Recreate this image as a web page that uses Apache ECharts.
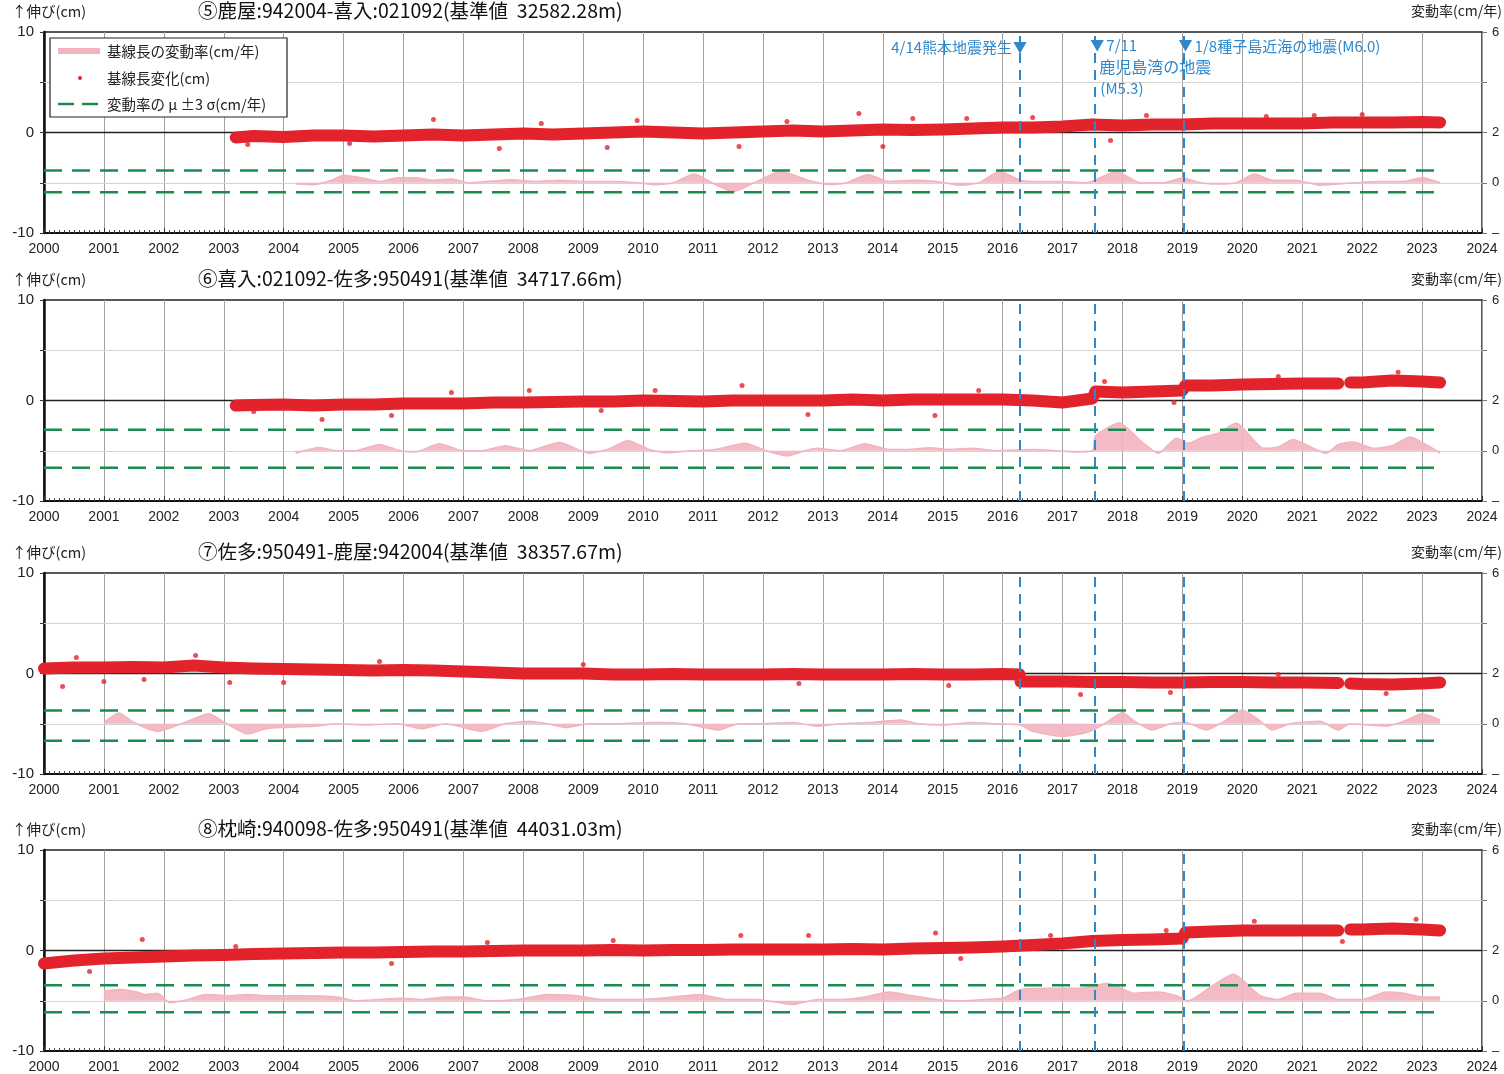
<!DOCTYPE html>
<html>
<head>
<meta charset="utf-8">
<script src="https://cdn.jsdelivr.net/npm/echarts@6/dist/echarts.min.js"></script>
<style>
  html, body { margin: 0; padding: 0; background: #fff; }
  #main { width: 1504px; height: 1074px; }
</style>
</head>
<body>
<div id="main"></div>
<script>
// 基線長変化 (cm) の帯、外れ点、変動率 (cm/年)、μ±3σ
const quakeYears = [2016.29, 2017.53, 2019.02];

const titles = [
  '⑤鹿屋:942004-喜入:021092(基準値  32582.28m)',
  '⑥喜入:021092-佐多:950491(基準値  34717.66m)',
  '⑦佐多:950491-鹿屋:942004(基準値  38357.67m)',
  '⑧枕崎:940098-佐多:950491(基準値  44031.03m)'
];

const band5 = [[2003.2,-0.5],[2003.5,-0.35],[2004.0,-0.45],[2004.5,-0.3],[2005.0,-0.3],[2005.5,-0.4],[2006.0,-0.3],[2006.5,-0.2],[2007.0,-0.3],[2007.5,-0.2],[2008.0,-0.1],[2008.5,-0.2],[2009.0,-0.1],[2009.5,0.0],[2010.0,0.1],[2010.5,0.0],[2011.0,-0.1],[2011.5,0.0],[2012.0,0.1],[2012.5,0.2],[2013.0,0.1],[2013.5,0.2],[2014.0,0.3],[2014.5,0.25],[2015.0,0.3],[2015.5,0.4],[2016.0,0.5],[2016.5,0.5],[2017.0,0.6],[2017.5,0.8],[2018.0,0.7],[2018.5,0.8],[2019.0,0.8],[2019.5,0.9],[2020.0,0.9],[2020.5,0.9],[2021.0,0.9],[2021.5,1.0],[2022.0,1.0],[2022.5,1.0],[2023.0,1.05],[2023.3,1.0]];
const dots5 = [[2006.5,1.3],[2009.9,1.2],[2013.6,1.9],[2014.5,1.4],[2015.4,1.4],[2016.5,1.5],[2009.4,-1.5],[2007.6,-1.6],[2014.0,-1.4],[2011.6,-1.4],[2017.8,-0.8],[2020.4,1.6],[2022.0,1.8],[2003.4,-1.2],[2005.1,-1.1],[2008.3,0.9],[2012.4,1.1],[2018.4,1.7],[2021.2,1.7]];
const rate5 = [[2004.2,-0.05],[2004.5,-0.08],[2004.8,0.1],[2005.0,0.3],[2005.3,0.2],[2005.6,0.05],[2005.9,0.2],[2006.2,0.2],[2006.5,0.1],[2006.8,0.15],[2007.1,0.0],[2007.4,0.05],[2007.8,0.12],[2008.2,0.05],[2008.6,0.1],[2009.0,0.05],[2009.5,0.05],[2009.9,0.0],[2010.2,-0.08],[2010.5,0.0],[2010.85,0.35],[2011.15,0.0],[2011.5,-0.35],[2011.85,0.0],[2012.3,0.45],[2012.75,0.1],[2013.1,-0.07],[2013.4,0.0],[2013.75,0.33],[2014.1,0.05],[2014.5,0.1],[2014.9,0.05],[2015.3,-0.1],[2015.6,0.0],[2015.95,0.45],[2016.3,0.1],[2016.6,0.05],[2017.0,0.05],[2017.4,0.0],[2017.9,0.45],[2018.3,0.0],[2018.7,0.0],[2019.0,0.2],[2019.3,0.0],[2019.6,-0.05],[2019.9,0.0],[2020.2,0.35],[2020.5,0.1],[2020.9,0.1],[2021.3,-0.1],[2021.6,-0.05],[2021.9,0.0],[2022.3,0.05],[2022.7,0.05],[2023.0,0.2],[2023.3,0.0]];
const sigma5 = [0.49, -0.38];

const band6 = [[2003.2,-0.5],[2003.5,-0.45],[2004.0,-0.4],[2004.5,-0.5],[2005.0,-0.4],[2005.5,-0.4],[2006.0,-0.3],[2006.5,-0.3],[2007.0,-0.3],[2007.5,-0.2],[2008.0,-0.2],[2008.5,-0.15],[2009.0,-0.1],[2009.5,-0.1],[2010.0,0.0],[2010.5,-0.05],[2011.0,-0.1],[2011.5,0.0],[2012.0,0.0],[2012.5,0.0],[2013.0,0.0],[2013.5,0.1],[2014.0,0.0],[2014.5,0.1],[2015.0,0.1],[2015.5,0.1],[2016.0,0.1],[2016.5,0.0],[2017.0,-0.2],[2017.5,0.2],[2017.55,0.9],[2018.0,0.8],[2018.5,0.9],[2019.0,1.0],[2019.05,1.5],[2019.5,1.5],[2020.0,1.6],[2020.5,1.65],[2021.0,1.7],[2021.6,1.7],[2021.7,null],[2021.8,1.8],[2022.0,1.8],[2022.5,2.0],[2023.0,1.9],[2023.3,1.8]];
const dots6 = [[2004.64,-1.9],[2005.8,-1.5],[2011.65,1.5],[2012.75,-1.4],[2014.87,-1.5],[2018.86,-0.2],[2009.3,-1.0],[2008.1,1.0],[2017.7,1.9],[2022.6,2.8],[2003.5,-1.1],[2006.8,0.8],[2010.2,1.0],[2015.6,1.0],[2020.6,2.4]];
const rate6 = [[2004.2,-0.1],[2004.6,0.13],[2004.9,0.0],[2005.2,0.0],[2005.6,0.25],[2005.95,0.0],[2006.2,-0.05],[2006.6,0.28],[2007.0,0.0],[2007.3,0.0],[2007.7,0.2],[2008.1,0.0],[2008.6,0.33],[2009.1,-0.1],[2009.4,0.05],[2009.75,0.4],[2010.1,0.05],[2010.4,-0.08],[2010.8,0.0],[2011.2,0.05],[2011.7,0.3],[2012.05,0.0],[2012.4,-0.2],[2012.7,0.0],[2012.9,0.1],[2013.3,0.0],[2013.7,0.28],[2014.1,0.05],[2014.4,0.05],[2014.8,0.12],[2015.1,0.05],[2015.5,0.1],[2015.9,0.0],[2016.5,0.05],[2016.9,0.0],[2017.2,-0.05],[2017.5,0.0],[2017.55,0.6],[2017.95,1.1],[2018.3,0.4],[2018.6,-0.1],[2018.9,0.5],[2019.1,0.3],[2019.35,0.55],[2019.6,0.7],[2019.9,1.1],[2020.35,0.1],[2020.6,0.15],[2020.85,0.45],[2021.1,0.2],[2021.4,-0.1],[2021.6,0.25],[2021.85,0.35],[2022.2,0.1],[2022.5,0.2],[2022.8,0.55],[2023.1,0.2],[2023.3,-0.1]];
const sigma6 = [0.84, -0.68];

const band7 = [[2000.0,0.5],[2000.5,0.6],[2001.0,0.6],[2001.5,0.65],[2002.0,0.6],[2002.5,0.8],[2003.0,0.6],[2003.5,0.5],[2004.0,0.45],[2004.5,0.4],[2005.0,0.35],[2005.5,0.3],[2006.0,0.35],[2006.5,0.3],[2007.0,0.2],[2007.5,0.1],[2008.0,0.0],[2008.5,0.0],[2009.0,0.0],[2009.5,-0.1],[2010.0,-0.1],[2010.5,-0.05],[2011.0,-0.1],[2011.5,-0.1],[2012.0,-0.1],[2012.5,-0.05],[2013.0,-0.1],[2013.5,-0.1],[2014.0,-0.1],[2014.5,-0.05],[2015.0,-0.1],[2015.5,-0.1],[2016.0,-0.05],[2016.28,-0.1],[2016.3,-0.8],[2016.5,-0.8],[2017.0,-0.8],[2017.5,-0.85],[2018.0,-0.85],[2018.5,-0.9],[2019.0,-0.9],[2019.5,-0.85],[2020.0,-0.85],[2020.5,-0.9],[2021.0,-0.9],[2021.6,-0.95],[2021.7,null],[2021.8,-1.0],[2022.0,-1.05],[2022.5,-1.1],[2023.0,-1.0],[2023.3,-0.9]];
const dots7 = [[2000.31,-1.3],[2000.54,1.6],[2002.53,1.8],[2001.67,-0.6],[2005.6,1.2],[2003.1,-0.9],[2017.3,-2.1],[2020.6,-0.1],[2001.0,-0.8],[2004.0,-0.9],[2009.0,0.9],[2012.6,-1.0],[2015.1,-1.2],[2018.8,-1.9],[2022.4,-2.0]];
const rate7 = [[2001.0,0.05],[2001.25,0.43],[2001.5,0.05],[2001.9,-0.3],[2002.3,0.0],[2002.75,0.4],[2003.05,0.0],[2003.4,-0.4],[2003.7,-0.2],[2004.0,-0.15],[2004.5,-0.1],[2004.9,0.0],[2005.4,-0.05],[2005.9,0.0],[2006.3,-0.2],[2006.7,0.0],[2007.3,-0.3],[2007.7,0.0],[2008.1,0.1],[2008.4,0.0],[2008.7,-0.15],[2009.1,0.0],[2009.6,0.0],[2010.2,0.05],[2010.7,0.0],[2011.25,-0.25],[2011.6,0.0],[2012.0,0.0],[2012.5,0.05],[2012.9,-0.1],[2013.3,0.0],[2013.8,0.05],[2014.3,0.15],[2014.6,0.0],[2015.0,-0.05],[2015.5,0.05],[2015.9,0.0],[2016.3,-0.05],[2016.5,-0.3],[2017.0,-0.5],[2017.4,-0.35],[2017.7,0.0],[2018.0,0.45],[2018.2,0.1],[2018.5,-0.25],[2018.8,0.0],[2019.05,0.05],[2019.4,-0.25],[2019.7,0.1],[2020.0,0.55],[2020.25,0.2],[2020.5,-0.25],[2020.8,0.0],[2021.3,0.1],[2021.6,-0.25],[2021.8,0.0],[2022.1,-0.05],[2022.4,-0.1],[2022.7,0.1],[2023.0,0.4],[2023.3,0.15]];
const sigma7 = [0.53, -0.68];

const band8 = [[2000.0,-1.3],[2000.5,-1.0],[2001.0,-0.8],[2001.5,-0.7],[2002.0,-0.6],[2002.5,-0.5],[2003.0,-0.45],[2003.5,-0.35],[2004.0,-0.3],[2004.5,-0.25],[2005.0,-0.2],[2005.5,-0.2],[2006.0,-0.15],[2006.5,-0.1],[2007.0,-0.1],[2007.5,-0.05],[2008.0,0.0],[2008.5,0.0],[2009.0,0.0],[2009.5,0.05],[2010.0,0.0],[2010.5,0.05],[2011.0,0.05],[2011.5,0.1],[2012.0,0.1],[2012.5,0.1],[2013.0,0.1],[2013.5,0.15],[2014.0,0.1],[2014.5,0.2],[2015.0,0.25],[2015.5,0.3],[2016.0,0.4],[2016.5,0.55],[2017.0,0.7],[2017.5,0.95],[2018.0,1.05],[2018.5,1.1],[2019.0,1.2],[2019.05,1.8],[2019.5,1.9],[2020.0,2.0],[2020.5,2.0],[2021.0,2.0],[2021.6,2.0],[2021.7,null],[2021.8,2.1],[2022.0,2.1],[2022.5,2.2],[2023.0,2.1],[2023.3,2.0]];
const dots8 = [[2001.64,1.1],[2000.76,-2.1],[2005.8,-1.3],[2011.63,1.5],[2014.88,1.75],[2018.73,2.0],[2012.76,1.5],[2021.67,0.9],[2009.5,1.0],[2015.3,-0.8],[2003.2,0.4],[2007.4,0.8],[2016.8,1.5],[2020.2,2.9],[2022.9,3.1]];
const rate8 = [[2001.0,0.4],[2001.3,0.45],[2001.55,0.35],[2001.7,0.25],[2001.9,0.3],[2002.1,-0.08],[2002.4,0.05],[2002.7,0.25],[2003.1,0.2],[2003.4,0.25],[2003.7,0.2],[2004.3,0.2],[2004.9,0.15],[2005.2,0.0],[2005.6,0.05],[2005.95,0.1],[2006.3,0.05],[2006.7,0.15],[2007.0,0.15],[2007.4,0.0],[2007.9,0.05],[2008.4,0.25],[2008.9,0.2],[2009.3,0.05],[2009.8,0.05],[2010.3,0.1],[2010.95,0.25],[2011.4,0.05],[2011.9,0.05],[2012.5,-0.15],[2012.9,0.05],[2013.3,0.05],[2013.7,0.15],[2014.1,0.35],[2014.5,0.2],[2014.9,0.05],[2015.3,0.0],[2015.7,0.05],[2016.0,0.1],[2016.3,0.45],[2016.8,0.5],[2017.3,0.5],[2017.75,0.7],[2018.2,0.3],[2018.6,0.35],[2018.9,0.2],[2019.1,0.0],[2019.5,0.6],[2019.85,1.05],[2020.3,0.2],[2020.6,0.05],[2020.9,0.3],[2021.3,0.3],[2021.6,0.05],[2022.0,0.05],[2022.4,0.35],[2022.7,0.3],[2023.0,0.15],[2023.3,0.15]];
const sigma8 = [0.62, -0.46];

const bands = [band5, band6, band7, band8];
const dots = [dots5, dots6, dots7, dots8];
const rates = [rate5, rate6, rate7, rate8];
const sigmas = [sigma5, sigma6, sigma7, sigma8];

const panelTops = [32, 300, 573, 850];
const panelH = 201;
const sigmaEnd = 2023.3;

const FONT = '"Liberation Sans", "Noto Sans CJK JP", sans-serif';
const JP = '"Noto Sans CJK JP", "Liberation Sans", sans-serif';
const RED = '#e3232b';
const PINK = '#f2b4bf';
const GREEN = '#1b8c4f';
const BLUE = '#2f88cc';

const chart = echarts.init(document.getElementById('main'));

const grids = [], xAxes = [], yAxes = [], series = [];

panelTops.forEach(function (top, i) {
  grids.push({
    left: 44, right: 22, top: top, height: panelH,
    show: true, borderColor: '#222', borderWidth: 1.5
  });
  xAxes.push({
    gridIndex: i, type: 'value', min: 2000, max: 2024, interval: 1,
    axisLine: { show: true, onZero: false, lineStyle: { color: '#111', width: 2 } },
    axisTick: { show: true, inside: true, length: 5, lineStyle: { color: '#333' } },
    minorTick: { show: true, splitNumber: 12, length: 3, lineStyle: { color: '#444' } },
    splitLine: { show: true, lineStyle: { color: '#a0a0a0', width: 1 } },
    axisLabel: { fontSize: 14, color: '#222', margin: 9, fontFamily: FONT,
      formatter: function (v) { return String(v); } }
  });
  yAxes.push({
    gridIndex: i, type: 'value', min: -10, max: 10, interval: 5, position: 'left',
    axisLine: { show: true, lineStyle: { color: '#111', width: 2.5 } },
    axisTick: { show: true, length: 4, lineStyle: { color: '#333' } },
    splitLine: { show: false },
    axisLabel: { fontSize: 15, color: '#222', margin: 10, fontFamily: FONT,
      formatter: function (v) { return v % 10 === 0 ? String(v) : ''; } }
  });
  yAxes.push({
    gridIndex: i, type: 'value', min: -2, max: 6, interval: 2, position: 'right',
    axisLine: { show: false },
    axisTick: { show: true, length: 5, lineStyle: { color: '#777' } },
    splitLine: { show: false },
    axisLabel: { fontSize: 13, color: '#222', margin: 10, fontFamily: FONT,
      formatter: function (v) { return ({ 6: '6', 2: '2', 0: '0', '-2': '–' })[v] || ''; } }
  });

  // 変動率 (pink area) + horizontal reference lines
  series.push({
    type: 'line', xAxisIndex: i, yAxisIndex: 2 * i + 1, z: 2,
    data: rates[i], showSymbol: false, smooth: 0.2,
    lineStyle: { color: PINK, width: 1.5 },
    areaStyle: { color: PINK, opacity: 0.9 },
    markLine: {
      z: 1, silent: true, symbol: ['none', 'none'], label: { show: false },
      data: [
        { yAxis: 0, lineStyle: { color: '#d4d4d4', width: 1, type: 'solid' } },
        { yAxis: 4, lineStyle: { color: '#d4d4d4', width: 1, type: 'solid' } },
        { yAxis: 2, lineStyle: { color: '#222', width: 1.3, type: 'solid' } }
      ]
    }
  });
  // μ±3σ
  sigmas[i].forEach(function (s) {
    series.push({
      type: 'line', xAxisIndex: i, yAxisIndex: 2 * i + 1, z: 3,
      data: [[2000, s], [sigmaEnd, s]], showSymbol: false,
      lineStyle: { color: GREEN, width: 2.5, type: [18, 10] }
    });
  });
  // 基線長変化 band
  series.push({
    type: 'line', xAxisIndex: i, yAxisIndex: 2 * i, z: 4,
    data: bands[i], showSymbol: false, connectNulls: false,
    lineStyle: { color: RED, width: 12, cap: 'round', join: 'round' }
  });
  // scattered points + earthquake lines
  series.push({
    type: 'scatter', xAxisIndex: i, yAxisIndex: 2 * i, z: 5,
    data: dots[i], symbolSize: 5, itemStyle: { color: RED },
    markLine: {
      z: 6, silent: true, symbol: ['none', 'none'], label: { show: false },
      lineStyle: { color: BLUE, width: 2, type: [10, 7] },
      data: quakeYears.map(function (x) { return { xAxis: x }; })
    }
  });
});

chart.setOption({
  animation: false,
  grid: grids, xAxis: xAxes, yAxis: yAxes, series: series
});

// text and legend
const g = [];
panelTops.forEach(function (top, i) {
  g.push({ type: 'text', left: 12, top: top - 28, z: 100,
    style: { text: '↑伸び(cm)', font: '14.5px ' + JP, fill: '#222' } });
  g.push({ type: 'text', left: 198, top: top - 31, z: 100,
    style: { text: titles[i], font: '19.5px ' + JP, fill: '#111' } });
  g.push({ type: 'text', right: 2, top: top - 28, z: 100,
    style: { text: '変動率(cm/年)', font: '14px ' + JP, fill: '#222' } });
});

// legend box
g.push({ type: 'rect', z: 100, shape: { x: 50, y: 38, width: 237, height: 79 },
  style: { fill: '#fff', stroke: '#222', lineWidth: 1.2 } });
g.push({ type: 'line', z: 101, shape: { x1: 58, y1: 51, x2: 100, y2: 51 },
  style: { stroke: PINK, lineWidth: 6 } });
g.push({ type: 'circle', z: 101, shape: { cx: 80, cy: 78, r: 2 }, style: { fill: RED } });
g.push({ type: 'line', z: 101, shape: { x1: 58, y1: 104, x2: 100, y2: 104 },
  style: { stroke: GREEN, lineWidth: 2.5, lineDash: [16, 8] } });
[['基線長の変動率(cm/年)', 51], ['基線長変化(cm)', 78], ['変動率の μ ±3 σ(cm/年)', 104]].forEach(function (t) {
  g.push({ type: 'text', z: 101, x: 107, y: t[1],
    style: { text: t[0], font: '14.5px ' + JP, fill: '#222', verticalAlign: 'middle' } });
});

// earthquake annotations (panel 1)
const qx = quakeYears.map(function (y) { return chart.convertToPixel({ xAxisIndex: 0 }, y); });
const annoFont = '15px ' + JP;
g.push({ type: 'text', z: 101, x: qx[0] - 8, y: 47,
  style: { text: '4/14熊本地震発生', font: annoFont, fill: BLUE, align: 'right', verticalAlign: 'middle' } });
[qx[0], qx[1] + 3, qx[2] + 2].forEach(function (x, k) {
  g.push({ type: 'text', z: 101, x: x, y: k === 0 ? 47 : 45,
    style: { text: '▼', font: '14px ' + JP, fill: BLUE, align: 'center', verticalAlign: 'middle' } });
});
g.push({ type: 'text', z: 101, x: qx[1] + 12, y: 45,
  style: { text: '7/11', font: annoFont, fill: BLUE, verticalAlign: 'middle' } });
g.push({ type: 'text', z: 101, x: qx[1] + 5, y: 67,
  style: { text: '鹿児島湾の地震', font: '16px ' + JP, fill: BLUE, verticalAlign: 'middle' } });
g.push({ type: 'text', z: 101, x: qx[1] + 6, y: 88,
  style: { text: '(M5.3)', font: annoFont, fill: BLUE, verticalAlign: 'middle' } });
g.push({ type: 'text', z: 101, x: qx[2] + 11, y: 46,
  style: { text: '1/8種子島近海の地震(M6.0)', font: annoFont, fill: BLUE, verticalAlign: 'middle' } });

chart.setOption({ graphic: g });
</script>
</body>
</html>
